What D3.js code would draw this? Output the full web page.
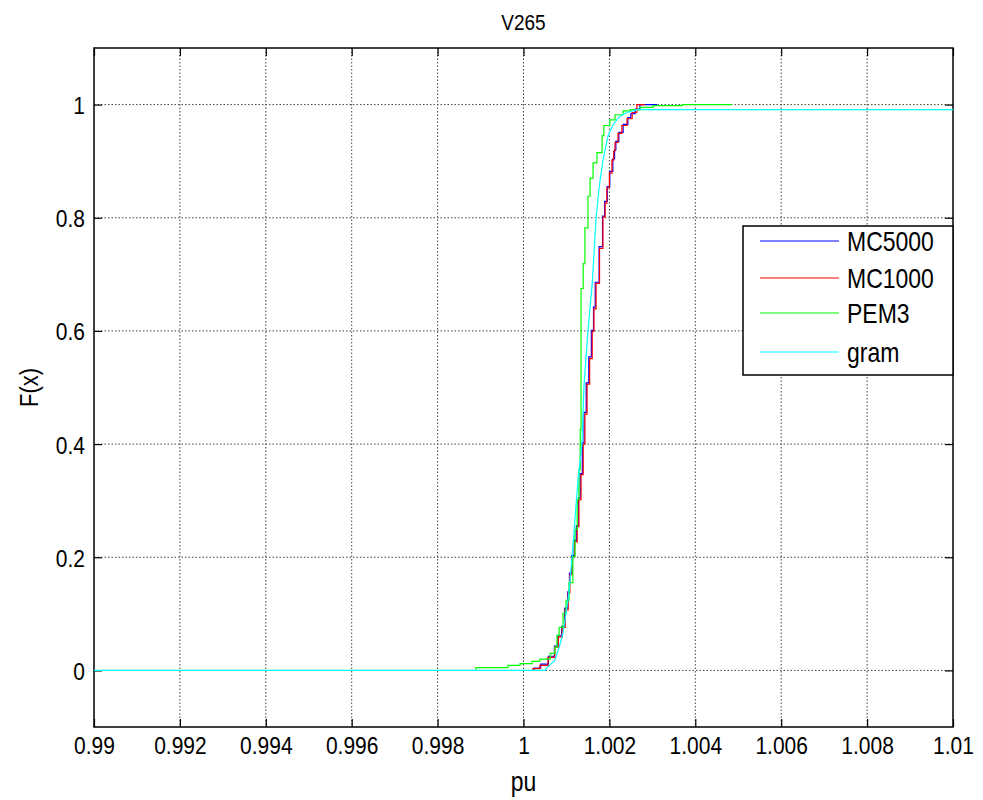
<!DOCTYPE html>
<html>
<head>
<meta charset="utf-8">
<script src="https://cdn.jsdelivr.net/npm/d3@7"></script>
<style>
  body { margin: 0; background: #fff; }
  svg text { font-family: "Liberation Sans", Arial, Helvetica, sans-serif; fill: #000; }
</style>
</head>
<body>
<svg id="chart" width="983" height="800"></svg>
<script>
// chart data: [pu, F(x)]
const mc5000 = [
  [1.00024, 0], [1.00024, 0.004], [1.00040, 0.011], [1.00058, 0.025], [1.00072, 0.043],
  [1.00080, 0.061], [1.00089, 0.078], [1.00096, 0.110], [1.00103, 0.139], [1.00107, 0.172],
  [1.00112, 0.203], [1.00118, 0.230], [1.00123, 0.256], [1.00128, 0.305], [1.00132, 0.348],
  [1.00137, 0.402], [1.00141, 0.456], [1.00146, 0.508], [1.00152, 0.554], [1.00158, 0.601],
  [1.00163, 0.642], [1.00167, 0.686], [1.00176, 0.749], [1.00184, 0.803], [1.00189, 0.829],
  [1.00195, 0.855], [1.00201, 0.882], [1.00208, 0.904], [1.00212, 0.920], [1.00215, 0.935],
  [1.00222, 0.951], [1.00232, 0.965], [1.00243, 0.977], [1.00250, 0.984], [1.00260, 0.992],
  [1.00271, 1.0], [1.00311, 1.0]
];
const mc1000 = [
  [1.00022, 0], [1.00022, 0.003], [1.00038, 0.009], [1.00057, 0.023], [1.00073, 0.041],
  [1.00081, 0.059], [1.00090, 0.076], [1.00097, 0.107], [1.00104, 0.137], [1.00108, 0.169],
  [1.00113, 0.201], [1.00119, 0.227], [1.00125, 0.254], [1.00129, 0.302], [1.00134, 0.346],
  [1.00139, 0.400], [1.00143, 0.453], [1.00148, 0.506], [1.00154, 0.551], [1.00160, 0.599],
  [1.00164, 0.639], [1.00169, 0.684], [1.00177, 0.746], [1.00185, 0.801], [1.00190, 0.826],
  [1.00194, 0.853], [1.00200, 0.879], [1.00206, 0.902], [1.00210, 0.918], [1.00213, 0.933],
  [1.00220, 0.949], [1.00229, 0.963], [1.00241, 0.975], [1.00253, 0.986], [1.00264, 1.0],
  [1.00283, 1.0]
];
const pem3 = [
  [0.99889, 0], [0.99889, 0.005], [0.99964, 0.009], [0.99992, 0.012], [1.00020, 0.016],
  [1.00038, 0.020], [1.00062, 0.030], [1.00073, 0.041], [1.00078, 0.062], [1.00083, 0.076],
  [1.00092, 0.101], [1.00099, 0.124], [1.00106, 0.155], [1.00115, 0.201], [1.00120, 0.249],
  [1.00125, 0.302], [1.00129, 0.355], [1.00132, 0.426], [1.00134, 0.515], [1.00134, 0.675],
  [1.00139, 0.719], [1.00143, 0.782], [1.00150, 0.838], [1.00155, 0.870], [1.00162, 0.897],
  [1.00171, 0.915], [1.00183, 0.945], [1.00187, 0.963], [1.00201, 0.973], [1.00213, 0.982],
  [1.00232, 0.989], [1.00248, 0.991], [1.00271, 0.995], [1.00302, 0.998], [1.00369, 1.0],
  [1.00485, 1.0]
];
const gram = [
  [0.99, 0], [1.00050, 0], [1.00055, 0.005], [1.00073, 0.018], [1.00083, 0.041],
  [1.00092, 0.066], [1.00099, 0.101], [1.00106, 0.137], [1.00113, 0.201], [1.00127, 0.337],
  [1.00136, 0.400], [1.00141, 0.506], [1.00150, 0.599], [1.00160, 0.684], [1.00169, 0.799],
  [1.00176, 0.853], [1.00185, 0.902], [1.00197, 0.945], [1.00208, 0.964], [1.00225, 0.980],
  [1.00241, 0.986], [1.00264, 0.991], [1.01, 0.991]
];

const seriesNames = ['MC5000', 'MC1000', 'PEM3', 'gram'];
const seriesColors = ['#0000ff', '#ff0000', '#00ff00', '#00ffff'];
const xTicks = [0.99, 0.992, 0.994, 0.996, 0.998, 1, 1.002, 1.004, 1.006, 1.008, 1.01];
const yTicks = [0, 0.2, 0.4, 0.6, 0.8, 1];

// layout
const margin = {t: 48, r: 30, b: 73, l: 94};
const width = 983, height = 800;
const w = width - margin.l - margin.r;
const h = height - margin.t - margin.b;

// the reference font is tall and narrow, so stretch text vertically a bit
const stretch = 'scale(1,1.18)';

const svg = d3.select('#chart');
const plot = svg.append('g')
    .attr('transform', `translate(${margin.l},${margin.t})`);

// scales
const scaleX = d3.scaleLinear().domain([0.99, 1.01]).range([0, w]);
const scaleY = d3.scaleLinear().domain([-0.1, 1.1]).range([h, 0]);

// dotted grid
plot.append('g').selectAll('line').data(xTicks.slice(1, -1)).join('line')
    .attr('x1', d => scaleX(d)).attr('x2', d => scaleX(d))
    .attr('y1', 0).attr('y2', h)
    .style('stroke', '#444').style('stroke-width', 1).style('stroke-dasharray', '1.5,2');
plot.append('g').selectAll('line').data(yTicks).join('line')
    .attr('x1', 0).attr('x2', w)
    .attr('y1', d => scaleY(d)).attr('y2', d => scaleY(d))
    .style('stroke', '#444').style('stroke-width', 1).style('stroke-dasharray', '1.5,2');

// axes with inward ticks on all four sides
const fmt = d => d3.format('')(+d.toFixed(3));
const xAxis = plot.append('g').attr('class', 'x-axis')
    .attr('transform', `translate(0,${h})`)
    .call(d3.axisBottom(scaleX).tickValues(xTicks).tickSize(-8).tickFormat(fmt));
plot.append('g').attr('class', 'x-top')
    .call(d3.axisTop(scaleX).tickValues(xTicks).tickSize(-8).tickFormat(''));
const yAxis = plot.append('g').attr('class', 'y-axis')
    .call(d3.axisLeft(scaleY).tickValues(yTicks).tickSize(-8).tickFormat(fmt));
plot.append('g').attr('class', 'y-right')
    .attr('transform', `translate(${w},0)`)
    .call(d3.axisRight(scaleY).tickValues(yTicks).tickSize(-8).tickFormat(''));
plot.selectAll('.domain').remove();
plot.selectAll('.tick line').style('stroke', '#000').style('stroke-width', 1.2);

xAxis.selectAll('.tick text')
    .attr('y', null).attr('dy', null)
    .attr('transform', `translate(0,27) ${stretch}`)
    .style('font-size', '21px');
yAxis.selectAll('.tick text')
    .attr('x', null).attr('dy', null)
    .attr('transform', `translate(-9,9) ${stretch}`)
    .style('font-size', '21px');

// frame
plot.append('rect')
    .attr('width', w).attr('height', h)
    .style('fill', 'none').style('stroke', '#000').style('stroke-width', 1.5);

// ECDF lines (stairs) and the gram curve (smooth)
const stepLine = d3.line()
    .x(d => scaleX(d[0]))
    .y(d => scaleY(d[1]))
    .curve(d3.curveStepAfter);
const smoothLine = d3.line()
    .x(d => scaleX(d[0]))
    .y(d => scaleY(d[1]));

const seriesData = [mc5000, mc1000, pem3, gram];
seriesData.forEach((s, i) => {
    plot.append('path')
        .attr('d', i === 3 ? smoothLine(s) : stepLine(s))
        .style('fill', 'none')
        .style('stroke', seriesColors[i])
        .style('stroke-width', 1.2);
});

// legend
const legend = plot.append('g')
    .attr('transform', `translate(${w - 210},${178})`);
legend.append('rect')
    .attr('width', 210).attr('height', 149)
    .style('fill', '#fff').style('stroke', '#000').style('stroke-width', 1.5);
const legendRowY = [15, 52, 87, 126];
seriesNames.forEach((name, i) => {
    legend.append('line')
        .attr('x1', 17).attr('x2', 96)
        .attr('y1', legendRowY[i]).attr('y2', legendRowY[i])
        .style('stroke', seriesColors[i]).style('stroke-width', 1.2);
    legend.append('text')
        .attr('transform', `translate(104,${legendRowY[i] + 10}) ${stretch}`)
        .style('font-size', '23px')
        .text(name);
});

// title and axis labels
svg.append('text')
    .attr('transform', `translate(${margin.l + w / 2},30) ${stretch}`)
    .attr('text-anchor', 'middle')
    .style('font-size', '19px')
    .text('V265');
svg.append('text')
    .attr('transform', `translate(${margin.l + w / 2},791) ${stretch}`)
    .attr('text-anchor', 'middle')
    .style('font-size', '23px')
    .text('pu');
svg.append('text')
    .attr('transform', `translate(38,${margin.t + scaleY(0.5)}) rotate(-90) ${stretch}`)
    .attr('text-anchor', 'middle')
    .style('font-size', '22px')
    .text('F(x)');
</script>
</body>
</html>
